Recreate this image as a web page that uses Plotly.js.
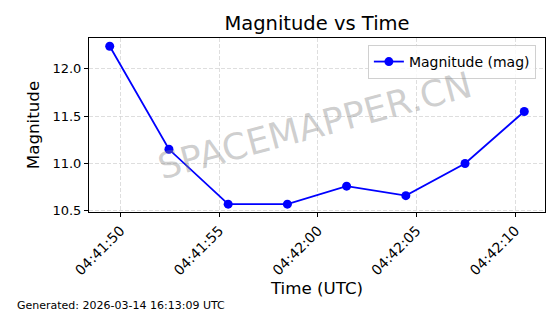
<!DOCTYPE html>
<html>
<head>
<meta charset="utf-8">
<script src="https://cdn.plot.ly/plotly-3.0.1.min.js"></script>
<style>html,body{margin:0;padding:0;background:#fff;}#chart{width:560px;height:314px;}</style>
</head>
<body>
<div id="chart"></div>
<script>
const times = ["2026-03-14 04:41:49.45","2026-03-14 04:41:52.45","2026-03-14 04:41:55.45","2026-03-14 04:41:58.45","2026-03-14 04:42:01.45","2026-03-14 04:42:04.45","2026-03-14 04:42:07.45","2026-03-14 04:42:10.45"];
const magnitudes = [12.24, 11.15, 10.57, 10.57, 10.76, 10.66, 11.0, 11.55];
const yTicks = [10.5, 11.0, 11.5, 12.0];
const seriesName = "Magnitude (mag)";
const F = "DejaVu Sans, sans-serif";

const trace = {
  x: times, y: magnitudes, type: "scatter", mode: "lines+markers",
  name: seriesName,
  line: {color: "#0000ff", width: 1.8},
  marker: {color: "#0000ff", size: 9}
};
const layout = {
  width: 560, height: 314,
  margin: {l: 89, r: 15, t: 38, b: 102},
  paper_bgcolor: "#fff", plot_bgcolor: "#fff",
  font: {family: F, color: "#000"},
  showlegend: true,
  title: {text: "Magnitude vs Time", font: {size: 19.5, family: F}, x: 0.5, xref: "paper", y: 0.925, yref: "container", yanchor: "middle"},
  xaxis: {
    type: "date",
    range: ["2026-03-14 04:41:48.4", "2026-03-14 04:42:11.5"],
    tick0: "2026-03-14 04:41:50", dtick: 5000, tickformat: "%H:%M:%S",
    tickangle: -45, tickfont: {size: 14, family: F},
    ticks: "outside", ticklen: 4, tickcolor: "#000",
    showgrid: true, gridcolor: "#d6d6d6", griddash: "4px,2px", gridwidth: 0.8,
    showline: true, linecolor: "#000", linewidth: 1, mirror: true, zeroline: false,
    title: {text: "Time (UTC)", font: {size: 16.7, family: F}, standoff: 4}
  },
  yaxis: {
    range: [10.487, 12.327],
    tickvals: yTicks, tickformat: ".1f",
    tickfont: {size: 13, family: F},
    ticks: "outside", ticklen: 4, tickcolor: "#000",
    showgrid: true, gridcolor: "#d6d6d6", griddash: "4px,2px", gridwidth: 0.8,
    showline: true, linecolor: "#000", linewidth: 1, mirror: true, zeroline: false,
    title: {text: "Magnitude", font: {size: 16.7, family: F}, standoff: 8}
  },
  legend: {
    x: 0.98, y: 0.96, xanchor: "right", yanchor: "top",
    bgcolor: "rgba(255,255,255,0.8)", bordercolor: "#d0d0d0", borderwidth: 1,
    font: {size: 14, family: F}
  },
  annotations: [
    {text: "SPACEMAPPER.CN", xref: "paper", yref: "paper", x: 0.495, y: 0.5,
     showarrow: false, textangle: -15, font: {size: 36, family: F, color: "rgba(128,128,128,0.38)"}},
    {text: "Generated: 2026-03-14 16:13:09 UTC", xref: "paper", yref: "paper",
     x: -0.162, y: -0.535, xanchor: "left", yanchor: "middle", showarrow: false,
     font: {size: 11, family: F}}
  ]
};
Plotly.newPlot("chart", [trace], layout, {displayModeBar: false, staticPlot: true});
</script>
</body>
</html>
